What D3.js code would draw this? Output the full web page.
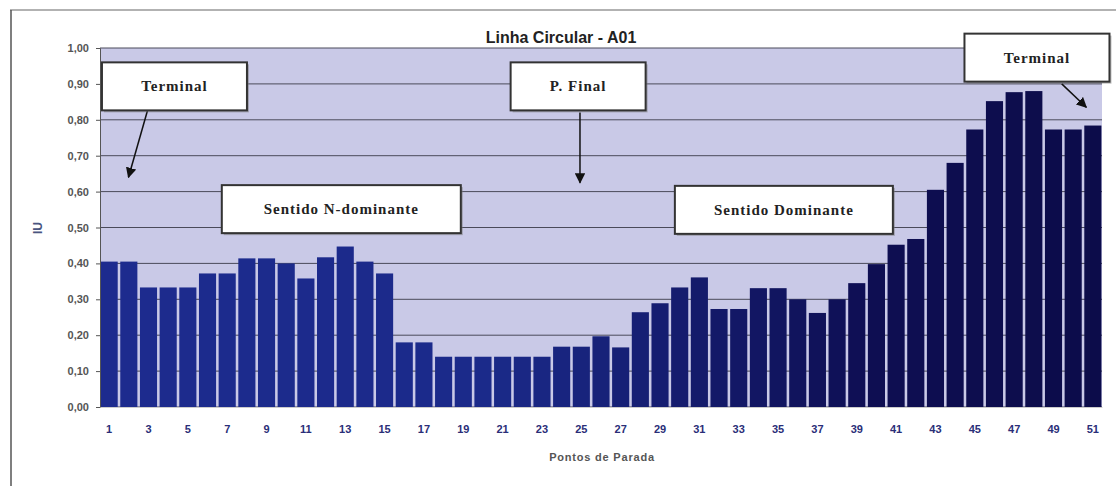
<!DOCTYPE html>
<html>
<head>
<meta charset="utf-8">
<script src="https://cdn.jsdelivr.net/npm/d3@7"></script>
<style>
  body { margin: 0; background: #fff; }
  svg { display: block; }
</style>
</head>
<body>
<div id="chart"></div>
<script>
// dados
const pontos = d3.range(1, 52);
const iu = [0.405, 0.405, 0.333, 0.333, 0.333, 0.372, 0.372, 0.414, 0.414, 0.400,
            0.358, 0.417, 0.447, 0.405, 0.372, 0.180, 0.180, 0.140, 0.140, 0.140,
            0.140, 0.140, 0.140, 0.168, 0.168, 0.197, 0.166, 0.264, 0.289, 0.333,
            0.361, 0.273, 0.273, 0.331, 0.331, 0.300, 0.262, 0.300, 0.345, 0.398,
            0.452, 0.468, 0.605, 0.680, 0.773, 0.852, 0.877, 0.880, 0.773, 0.773,
            0.784];
const yTicks = d3.range(0, 1.0001, 0.1);
const xTickLabels = pontos.filter(p => p % 2 === 1);

// caixas de texto (posição em ponto / IU) e setas [x1, y1, x2, y2]
const notas = [
  { texto: "Terminal", x: 0.6, y: 0.96, w: 145, seta: [2.94, 0.83, 1.95, 0.64] },
  { texto: "P. Final", x: 21.4, y: 0.96, w: 135, seta: [24.93, 0.82, 24.93, 0.625] },
  { texto: "Terminal", x: 44.5, y: 1.04, w: 145, seta: [49.45, 0.9, 50.7, 0.835] },
  { texto: "Sentido N-dominante", x: 6.7, y: 0.618, w: 239, seta: null },
  { texto: "Sentido Dominante", x: 29.76, y: 0.616, w: 218, seta: null }
];

const W = 1116, H = 486;
const m = { left: 100, right: 14, top: 48, bottom: 79 };

const svg = d3.select("#chart").append("svg")
  .attr("width", W).attr("height", H);

// moldura externa
svg.append("line").attr("x1", 10).attr("x2", W).attr("y1", 10).attr("y2", 10)
  .attr("stroke", "#999").attr("stroke-width", 1.5);
svg.append("line").attr("x1", 11).attr("x2", 11).attr("y1", 10).attr("y2", H)
  .attr("stroke", "#555").attr("stroke-width", 1.5);

const x = d3.scaleBand().domain(pontos).range([m.left, W - m.right]).paddingInner(0.13).paddingOuter(0.03);
const y = d3.scaleLinear().domain([0, 1]).range([H - m.bottom, m.top]);

// fundo do gráfico
svg.append("rect")
  .attr("x", m.left).attr("y", m.top)
  .attr("width", W - m.left - m.right).attr("height", H - m.top - m.bottom)
  .attr("fill", "#c9c9e7");

// grade
svg.append("g").selectAll("line").data(yTicks).join("line")
  .attr("x1", m.left).attr("x2", W - m.right)
  .attr("y1", d => y(d)).attr("y2", d => y(d))
  .attr("stroke", "#4a4a5a").attr("stroke-width", 1);

// barras
const cor = d3.scaleLinear().domain([1, 20, 40, 51]).range(["#1d2b8e", "#1b2a8a", "#0e0e52", "#0c0c4a"]);
svg.append("g").selectAll("rect").data(pontos).join("rect")
  .attr("x", d => x(d)).attr("width", x.bandwidth())
  .attr("y", (d, i) => y(iu[i])).attr("height", (d, i) => y(0) - y(iu[i]))
  .attr("fill", d => cor(d));

// eixo y
const yAxis = svg.append("g").attr("transform", `translate(${m.left},0)`)
  .call(d3.axisLeft(y).tickValues(yTicks).tickSize(4).tickFormat(d => d3.format(".2f")(d).replace(".", ",")));
yAxis.select(".domain").attr("stroke", "#555");
yAxis.selectAll(".tick line").attr("stroke", "#555");
yAxis.selectAll("text").attr("font-family", "Arial, 'Liberation Sans', sans-serif")
  .attr("font-size", 11).attr("font-weight", "bold").attr("fill", "#555").attr("dx", "-4");

// eixo x
const xAxis = svg.append("g").attr("transform", `translate(0,${y(0)})`)
  .call(d3.axisBottom(x).tickValues(xTickLabels).tickSize(0).tickPadding(18));
xAxis.select(".domain").attr("stroke", "#ccc");
xAxis.selectAll("text").attr("font-family", "Arial, 'Liberation Sans', sans-serif")
  .attr("font-size", 11).attr("font-weight", "bold").attr("fill", "#2a2e78");

// títulos
svg.append("text").attr("x", 561).attr("y", 43).attr("text-anchor", "middle")
  .attr("font-family", "Arial, 'Liberation Sans', sans-serif").attr("font-size", 16)
  .attr("font-weight", "bold").attr("fill", "#222").text("Linha Circular - A01");
svg.append("text").attr("x", 602).attr("y", 461).attr("text-anchor", "middle")
  .attr("font-family", "Arial, 'Liberation Sans', sans-serif").attr("font-size", 11)
  .attr("font-weight", "bold").attr("fill", "#555").attr("letter-spacing", 0.8).text("Pontos de Parada");
svg.append("text").attr("transform", "translate(42,228) rotate(-90)").attr("text-anchor", "middle")
  .attr("font-family", "Arial, 'Liberation Sans', sans-serif").attr("font-size", 12)
  .attr("font-weight", "bold").attr("fill", "#4a5580").text("IU");

// setas
const defs = svg.append("defs");
defs.append("marker").attr("id", "ponta").attr("viewBox", "0 0 10 10")
  .attr("refX", 9).attr("refY", 5).attr("markerWidth", 7).attr("markerHeight", 7)
  .attr("orient", "auto").append("path").attr("d", "M0,0 L10,5 L0,10 z").attr("fill", "#111");

const xc = v => m.left + (v - 0.5) * (W - m.left - m.right) / 51;
const bh = 48;
const g = svg.append("g");
notas.forEach(n => {
  const bx = xc(n.x), by = y(n.y);
  if (n.seta) {
    g.append("line")
      .attr("x1", xc(n.seta[0])).attr("y1", y(n.seta[1]))
      .attr("x2", xc(n.seta[2])).attr("y2", y(n.seta[3]))
      .attr("stroke", "#111").attr("stroke-width", 1.5).attr("marker-end", "url(#ponta)");
  }
  g.append("rect").attr("x", bx + 2).attr("y", by + 2).attr("width", n.w).attr("height", bh)
    .attr("fill", "#777").attr("opacity", 0.5);
  g.append("rect").attr("x", bx).attr("y", by).attr("width", n.w).attr("height", bh)
    .attr("fill", "#fff").attr("stroke", "#333").attr("stroke-width", 2);
  g.append("text").attr("x", bx + n.w / 2).attr("y", by + bh / 2 + 5).attr("text-anchor", "middle")
    .attr("font-family", "'Liberation Serif', 'Times New Roman', serif").attr("font-size", 15)
    .attr("font-weight", "bold").attr("fill", "#222").attr("letter-spacing", 1).text(n.texto);
});
</script>
</body>
</html>
